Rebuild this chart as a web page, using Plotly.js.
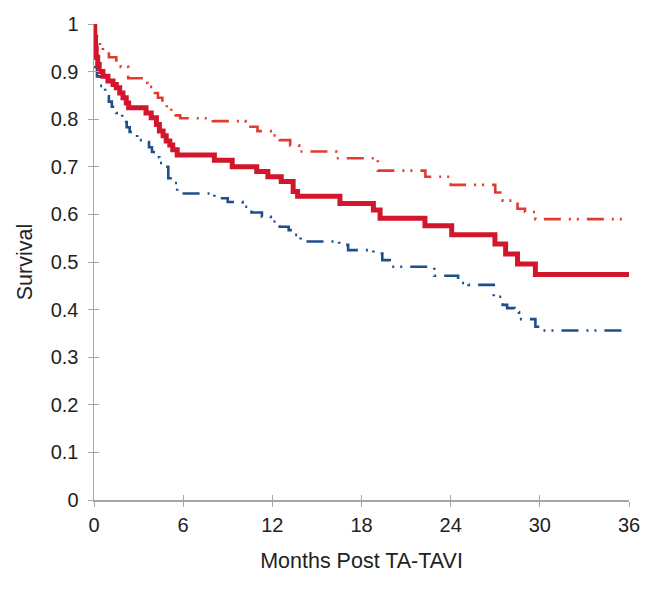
<!DOCTYPE html>
<html>
<head>
<meta charset="utf-8">
<script src="https://cdn.plot.ly/plotly-3.0.1.min.js"></script>
<style>html,body{margin:0;padding:0;background:#fff;}#chart{width:661px;height:596px;}</style>
</head>
<body>
<div id="chart"></div>
<script>
// Kaplan-Meier estimate (months post TA-TAVI, survival)
const mainMonths = [0, 0.05, 0.1, 0.15, 0.25, 0.35, 0.6, 0.94, 1.28, 1.5, 1.73, 1.95, 2.17, 2.33, 3.5, 3.85, 4.2, 4.4, 4.65, 4.86, 5.1, 5.3, 5.6, 8.1, 9.3, 10.95, 11.7, 12.6, 13.4, 13.7, 16.55, 18.8, 19.25, 22.27, 24.07, 26.98, 27.7, 28.5, 29.7, 36];
const mainSurv   = [1.0, 0.97, 0.95, 0.93, 0.915, 0.90, 0.89, 0.88, 0.873, 0.866, 0.855, 0.845, 0.834, 0.824, 0.813, 0.803, 0.789, 0.775, 0.765, 0.754, 0.746, 0.736, 0.725, 0.714, 0.70, 0.69, 0.679, 0.669, 0.648, 0.638, 0.623, 0.609, 0.592, 0.576, 0.557, 0.538, 0.517, 0.496, 0.474, 0.474];

// Upper confidence bound
const upperMonths = [0, 0.1, 0.2, 0.4, 0.6, 1.0, 1.5, 1.8, 2.3, 3.2, 3.6, 4.1, 4.3, 4.6, 4.9, 5.2, 5.5, 5.8, 8.0, 10.2, 11.0, 12.0, 12.5, 13.2, 13.8, 16.3, 19.1, 22.3, 24.0, 27.0, 27.5, 28.5, 29.0, 29.7, 36];
const upperSurv   = [1.0, 0.975, 0.965, 0.955, 0.942, 0.93, 0.918, 0.91, 0.886, 0.876, 0.868, 0.855, 0.845, 0.834, 0.825, 0.816, 0.808, 0.802, 0.796, 0.784, 0.775, 0.766, 0.756, 0.745, 0.732, 0.718, 0.692, 0.679, 0.662, 0.646, 0.629, 0.612, 0.605, 0.59, 0.59];

// Lower confidence bound
const lowerMonths = [0, 0.05, 0.2, 0.4, 0.75, 1.0, 1.2, 1.5, 1.9, 2.2, 2.4, 2.9, 3.4, 3.7, 3.9, 4.2, 4.4, 4.7, 5.0, 5.3, 5.6, 8.1, 9.0, 10.0, 10.6, 11.3, 11.9, 12.5, 13.1, 13.5, 13.9, 16.5, 17.1, 18.8, 19.4, 19.9, 22.9, 24.5, 25.2, 26.9, 27.5, 27.8, 28.3, 28.6, 29.7, 30.0, 36];
const lowerSurv   = [1.0, 0.91, 0.89, 0.87, 0.848, 0.837, 0.826, 0.813, 0.794, 0.783, 0.773, 0.756, 0.752, 0.741, 0.731, 0.72, 0.708, 0.70, 0.676, 0.666, 0.644, 0.634, 0.626, 0.616, 0.604, 0.595, 0.585, 0.574, 0.567, 0.557, 0.543, 0.536, 0.525, 0.518, 0.504, 0.49, 0.471, 0.456, 0.452, 0.427, 0.41, 0.403, 0.395, 0.38, 0.364, 0.356, 0.356];

const xTicks = [0, 6, 12, 18, 24, 30, 36];
const yTicks = [0, 0.1, 0.2, 0.3, 0.4, 0.5, 0.6, 0.7, 0.8, 0.9, 1];
const xTitle = 'Months Post TA-TAVI';
const yTitle = 'Survival';

const dashPat = '17px,8px,2px,6px,2px,8px';
const traces = [
  {x: lowerMonths, y: lowerSurv, mode: 'lines', line: {shape: 'hv', color: '#1f4e8c', width: 2.6, dash: dashPat}, hoverinfo: 'skip'},
  {x: upperMonths, y: upperSurv, mode: 'lines', line: {shape: 'hv', color: '#e23a30', width: 2.6, dash: dashPat}, hoverinfo: 'skip'},
  {x: mainMonths, y: mainSurv, mode: 'lines', line: {shape: 'hv', color: '#d2162b', width: 5}, hoverinfo: 'skip'},
  {x: [], y: [], xaxis: 'x2', yaxis: 'y2', mode: 'lines', hoverinfo: 'skip'}
];

const fam = 'Liberation Sans, Arial, sans-serif';
const tickFont = {family: fam, size: 20, color: '#222222'};
const titleFont = {family: fam, size: 21.5, color: '#222222'};
const layout = {
  width: 661, height: 596,
  margin: {l: 94, r: 32, t: 24, b: 96},
  paper_bgcolor: '#ffffff', plot_bgcolor: '#ffffff',
  showlegend: false,
  font: tickFont,
  xaxis: {
    range: [0, 36], tickvals: xTicks, ticktext: xTicks.map(String),
    showgrid: false, zeroline: false, showline: true, linecolor: '#a6a6a6', linewidth: 1.5,
    ticks: 'outside', ticklen: 5, tickcolor: '#a6a6a6', tickwidth: 1,
    ticklabelstandoff: 1, tickfont: tickFont,
    title: {text: xTitle, font: titleFont, standoff: 18}
  },
  yaxis: {
    range: [0, 1], tickvals: yTicks,
    showgrid: false, zeroline: false, showline: true, linecolor: '#a6a6a6', linewidth: 1.5,
    ticks: 'outside', ticklen: 5, tickcolor: '#a6a6a6', tickwidth: 1,
    ticklabelstandoff: 5, tickfont: tickFont,
    title: {text: yTitle, font: titleFont, standoff: 12}
  },
  xaxis2: {
    overlaying: 'x', anchor: 'y2', range: [0, 36], tickvals: xTicks,
    showgrid: false, zeroline: false, showline: false, showticklabels: false,
    ticks: 'inside', ticklen: 5, tickcolor: '#a6a6a6', tickwidth: 1
  },
  yaxis2: {
    overlaying: 'y', anchor: 'x2', range: [0, 1], tickvals: yTicks,
    showgrid: false, zeroline: false, showline: false, showticklabels: false,
    ticks: 'inside', ticklen: 5, tickcolor: '#a6a6a6', tickwidth: 1
  }
};

Plotly.newPlot('chart', traces, layout, {staticPlot: true, displayModeBar: false});
</script>
</body>
</html>
